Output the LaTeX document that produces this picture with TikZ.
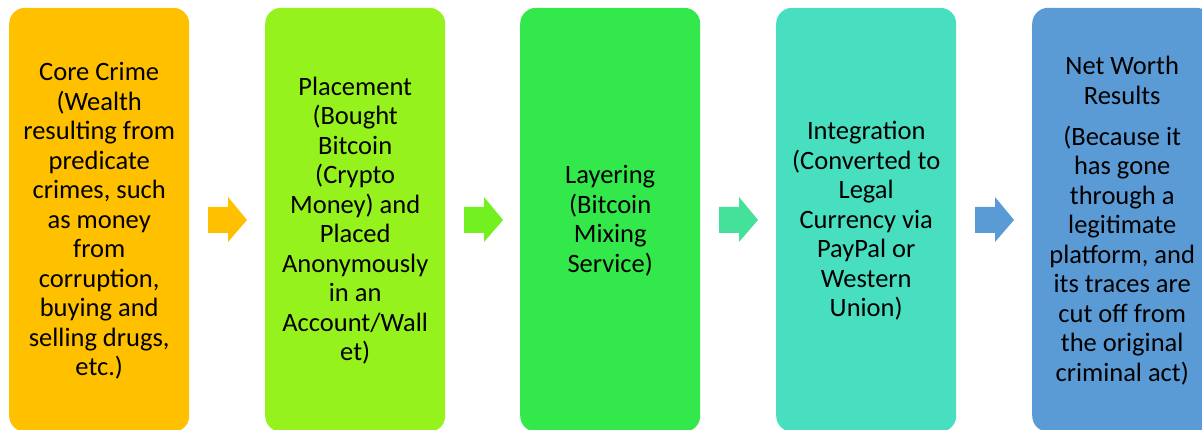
\documentclass[tikz,border=0pt]{standalone}
\usepackage{fontspec}
\setmainfont{Carlito}
\begin{document}
\begin{tikzpicture}[x=1pt,y=1pt,
  stage/.style={rounded corners=16pt, minimum width=180pt, minimum height=424pt,
    anchor=south west, inner sep=0pt},
  label/.style={align=center, font=\fontsize{26.5}{29.5}\selectfont, text=black}]
\useasboundingbox (0,0) rectangle (1202,430);
\definecolor{cOrange}{HTML}{FFC000}
\definecolor{cLime}{HTML}{96F21C}
\definecolor{cGreen}{HTML}{33E84A}
\definecolor{cTeal}{HTML}{48DFC0}
\definecolor{cBlue}{HTML}{5B9BD5}
\definecolor{aLime}{HTML}{72F020}
\definecolor{aMint}{HTML}{45E09A}

% stage boxes
\node[stage, fill=cOrange] (s1) at (9,-2) {};
\node[stage, fill=cLime]   (s2) at (265,-2) {};
\node[stage, fill=cGreen]  (s3) at (520,-2) {};
\node[stage, fill=cTeal]   (s4) at (776,-2) {};
\node[stage, fill=cBlue]   (s5) at (1032,-2) {};

% stage texts
\node[label] (t1) at ([yshift=-1pt]s1.center) {Core Crime\\(Wealth\\resulting from\\predicate\\crimes, such\\as money\\from\\corruption,\\buying and\\selling drugs,\\etc.)};
\node[label] (t2) at ([yshift=-1pt]s2.center) {Placement\\(Bought\\Bitcoin\\(Crypto\\Money) and\\Placed\\Anonymously\\in an\\Account/Wall\\et)};
\node[label] (t3) at ([yshift=-1pt]s3.center) {Layering\\(Bitcoin\\Mixing\\Service)};
\node[label] (t4) at ([yshift=-1pt]s4.center) {Integration\\(Converted to\\Legal\\Currency via\\PayPal or\\Western\\Union)};
\node[label] (t5) at ([yshift=-1pt]s5.center) {Net Worth\\Results\\[11.5pt](Because it\\has gone\\through a\\legitimate\\platform, and\\its traces are\\cut off from\\the original\\criminal act)};

% block arrows between stages
\foreach \x/\c in {208/cOrange, 464/aLime, 719/aMint, 975/cBlue}{
  \fill[\c] (\x,197) -- (\x+20,197) -- (\x+20,188) -- (\x+39,210)
        -- (\x+20,233) -- (\x+20,223) -- (\x,223) -- cycle;
}
\end{tikzpicture}
\end{document}
